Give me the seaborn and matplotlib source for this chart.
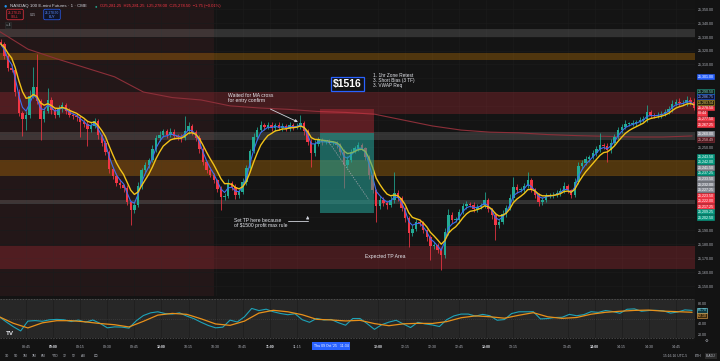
import numpy as np
import pandas as pd
import matplotlib
matplotlib.use("Agg")
import matplotlib.pyplot as plt
import matplotlib.transforms as mtransforms
import seaborn as sns

# ---- candles (2-minute bars) ----
BAR_START = "08:31"
BAR_STEP = 2
first_open = 25326.0
close = [
    25324.75, 25316.0, 25307.25, 25306.0, 25290.0, 25274.75, 25270.5, 25273.5, 25287.25, 25293.75,
    25283.5, 25270.5, 25276.25, 25284.25, 25277.0, 25273.5, 25277.75, 25280.75, 25276.25, 25273.5,
    25272.75, 25272.0, 25268.25, 25267.0, 25263.25, 25265.5, 25269.0, 25259.0, 25253.25, 25246.75,
    25234.5, 25229.25, 25224.25, 25222.75, 25220.75, 25210.5, 25204.75, 25208.5, 25222.0, 25233.75,
    25237.25, 25241.0, 25248.75, 25256.75, 25259.0, 25261.5, 25258.75, 25261.0, 25258.25, 25257.5,
    25256.75, 25262.0, 25265.5, 25261.25, 25256.75, 25248.75, 25239.5, 25233.75, 25230.0, 25226.5,
    25220.0, 25214.25, 25215.0, 25224.25, 25221.5, 25215.5, 25217.75, 25225.0, 25235.0, 25247.5,
    25257.5, 25262.5, 25266.25, 25264.75, 25266.5, 25264.0, 25266.25, 25263.75, 25265.5, 25263.5,
    25266.0, 25264.5, 25265.5, 25267.5, 25262.0, 25254.0, 25246.0, 25252.5, 25255.5, 25254.0,
    25254.0, 25253.25, 25253.25, 25251.75, 25246.75, 25237.25, 25241.0, 25246.75, 25249.5, 25251.75,
    25249.5, 25243.0, 25230.0, 25219.25, 25207.75, 25212.0, 25209.75, 25208.5, 25212.0, 25217.0,
    25213.5, 25206.25, 25199.0, 25188.25, 25191.0, 25196.0, 25195.5, 25190.25, 25185.25, 25178.75,
    25179.5, 25176.0, 25172.25, 25189.0, 25201.25, 25197.5, 25197.5, 25203.25, 25207.75, 25209.0,
    25208.5, 25205.5, 25207.0, 25208.5, 25212.0, 25205.5, 25201.25, 25194.0, 25196.0, 25202.0,
    25206.25, 25213.5, 25221.5, 25219.25, 25219.25, 25222.0, 25226.5, 25220.0, 25215.5, 25210.5,
    25212.0, 25215.0, 25215.5, 25215.5, 25217.0, 25218.5, 25222.0, 25219.25, 25215.5, 25225.0,
    25236.5, 25238.75, 25241.5, 25243.0, 25246.0, 25248.75, 25251.75, 25251.0, 25248.0, 25253.25,
    25257.5, 25262.5, 25264.75, 25267.0, 25267.0, 25267.5, 25268.25, 25269.75, 25270.5, 25275.5,
    25273.5, 25272.75, 25273.5, 25274.0, 25275.5, 25277.75, 25281.5, 25282.75, 25282.0, 25282.0,
    25284.25, 25282.75, 25278.5,
]
upper_wick = [
    2, 1.5, 2, 3, 1, 2, 1.5, 3, 4, 14, 24, 1.5, 3, 9, 2, 1.5, 3, 2, 1.5, 2,
    1.5, 2, 1, 2.5, 2, 3, 2, 1.5, 1, 2, 1, 1.5, 2, 3, 1, 2, 1, 2, 3, 1.5,
    2, 1.5, 3, 2, 2.5, 1.5, 2, 3, 2, 1.5, 2, 11, 2.5, 1.5, 1, 2, 1.5, 1, 2, 1.5,
    1, 2, 2, 3, 1.5, 2, 2, 3, 2, 1.5, 3, 2, 2.5, 1.5, 2, 2, 1.5, 2, 2, 1.5,
    2, 1.5, 2, 6, 1.5, 1, 2, 3, 2, 1.5, 1, 2, 1.5, 1, 1.5, 2, 3, 2, 1.5, 2,
    1.5, 1, 1.5, 2, 1, 3, 2, 1.5, 3, 15, 2, 1.5, 1, 1.5, 3, 2, 2.5, 1.5, 1, 1.5,
    2, 1.5, 2, 3, 4, 2, 2, 2.5, 2, 2, 1.5, 2, 2, 1.5, 6, 1.5, 1, 2, 2.5, 3,
    2, 3, 7, 2, 2, 2, 6, 1.5, 1, 1.5, 2, 2, 1.5, 2, 2, 2, 3, 1.5, 1, 3,
    3, 2, 2, 1.5, 2, 2.5, 9, 1.5, 2, 2.5, 2, 2, 2, 2.5, 1.5, 2, 1.5, 2, 2, 5,
    1.5, 1.5, 2, 2, 2, 2.5, 3, 2, 3, 2.5, 3, 2, 2.75,
]
lower_wick = [
    1.5, 2, 2, 1.5, 3, 2, 12, 8, 2, 1.5, 2, 15.5, 2, 1.5, 3, 2, 1.5, 2, 2, 1.5,
    2, 3, 11, 2, 12, 2, 1.5, 3, 2, 2, 3, 2, 2.5, 2, 3, 2, 11, 2, 1.5, 2,
    1.5, 2, 1.5, 2, 2, 1.5, 2, 1.5, 2, 2.5, 3, 1.5, 2, 2, 2.5, 3, 2, 2, 1.5, 2,
    2, 9.5, 2, 1.5, 2, 3, 2, 1.5, 2, 1.5, 1.5, 2, 1.5, 2, 1.5, 2, 2, 1.5, 2, 2,
    1.5, 2, 1.5, 2, 3, 2, 10, 2, 1.5, 2, 1.5, 1, 1.5, 2, 2, 16.5, 2, 1.5, 1, 2,
    1.5, 2, 3, 2, 12, 2, 2, 3, 1.5, 2, 2, 2, 3, 10, 2, 1.5, 2, 2, 3, 10,
    2, 2.5, 11, 2, 2, 2, 1.5, 2, 1.5, 2, 1.5, 2, 2, 1.5, 2, 2, 3, 11, 2, 1.5,
    2, 1.5, 2, 2, 1.5, 2, 1.5, 2, 2, 3, 2, 1.5, 1.5, 2, 1.5, 2, 1.5, 2, 2, 1.5,
    1.5, 2, 1.5, 2, 1.5, 2, 2, 2, 8.5, 2, 1.5, 1.5, 2, 1.5, 1.5, 1.5, 2, 1.5, 1.5, 2,
    2, 1.5, 1.5, 2, 1.5, 1.5, 2, 1.5, 2, 1.5, 2, 2, 1.5,
]

# ---- long average (maroon), one value every 16 minutes from 08:30 ----
vwap_step = 16
vwap = [25334.0, 25321.0, 25314.0, 25307.5, 25301.0, 25290.0, 25286.0, 25284.25, 25280.0,
        25278.5, 25277.5, 25276.0, 25275.25, 25274.0, 25269.75, 25265.5, 25262.5, 25261.0,
        25260.5, 25259.25, 25258.5, 25258.0, 25257.5, 25257.5, 25258.25]

# ---- RSI panel ----
rsi_step = 4
rsi = [
    53.6, 43.5, 34, 26, 45, 46, 44.7, 47.5, 48.3, 47.6,
    44.1, 47, 43, 47.1, 40.6, 32, 33.8, 33.4, 31.4, 45.5,
    55.8, 61, 63, 59.6, 58.6, 61, 54.8, 49.7, 42.7, 36.5,
    32, 33.3, 46.9, 43.3, 53.4, 69.5, 65.4, 68, 63.1, 59.7,
    57.4, 59.2, 47.7, 42.7, 50.2, 47.2, 48.2, 42, 37, 50,
    50, 40, 29, 38, 43, 46.6, 39.5, 32.5, 42.6, 39.6,
    37.6, 34.5, 47.7, 55, 58.6, 58.6, 54.6, 58, 55.3, 46.7,
    48, 59.6, 63, 63, 63.2, 49.2, 50, 52, 52.4, 58,
    55.4, 57.5, 63.2, 61.8, 65.5, 63.5, 60.1, 67.9, 68.7, 64,
    65.5, 65.8, 65, 60.5, 62.6, 66.7, 65.7,
]
rsi_ma_step = 8
rsi_ma = [
    53.6, 40.7, 31.8, 41.6, 45.8, 45.8, 43.5, 40.3, 38, 33.7,
    44.6, 56.6, 59.9, 58.1, 49.4, 39.5, 36.8, 45, 60.5, 65.9,
    63, 57.3, 48.4, 47.3, 45.3, 46.5, 40.2, 36.1, 39.7, 40.7,
    40.4, 44, 51.5, 55.1, 53.4, 50.6, 56.3, 61.3, 53.3, 50.3,
    52, 58.3, 62, 64, 65.7, 66.3, 64.3, 63.2, 62.1,
]

# ---- zones ----
zone_lo = [25329.75, 25313.25, 25274.0, 25255.5, 25229.25, 25209.25, 25162.0]
zone_hi = [25335.5, 25318.25, 25290.0, 25261.0, 25241.0, 25212.0, 25178.75]
zone_kind = ["grey", "orange", "red", "grey", "orange", "grey", "red"]
session_tint_end = "10:29"

# ---- short position drawing ----
trade_start, trade_end = "11:28", "11:58"
entry_price, stop_price, target_price = 25260.5, 25277.75, 25202.5
trade_path_t = ["11:32", "11:55"]
trade_path_p = [25255.25, 25212.0]

tick_times = ["08:45", "09:00", "09:15", "09:30", "09:45", "10:00", "10:15", "10:30", "10:45",
              "11:00", "11:15", "12:00", "12:15", "12:30", "12:45", "13:00", "13:15", "13:45",
              "14:00", "14:15", "14:30", "14:45"]

tag_text = ["25,301.00", "25,290.50", "25,286.75", "25,283.54", "25,278.50", "00:44", "25,277.50",
            "25,267.25", "25,260.00", "25,258.49", "25,243.50", "25,242.00", "25,241.50",
            "25,237.25", "25,233.50", "25,232.00", "25,227.25", "25,223.50", "25,222.00",
            "25,217.25", "25,209.25", "25,202.50"]
tag_value = [25301.0, 25290.5, 25286.75, 25283.54, 25278.5, 25278.5, 25277.5, 25267.25, 25260.0,
             25258.49, 25243.5, 25242.0, 25241.5, 25237.25, 25233.5, 25232.0, 25227.25, 25223.5,
             25222.0, 25217.25, 25209.25, 25202.5]
tag_kind = ["blue", "teal_o", "blue_o", "yellow_o", "red", "red", "red", "red", "grey", "darkred",
            "teal", "teal", "grey", "teal", "grey", "grey", "grey", "red", "red", "red", "teal", "teal"]

BG = "#131313"
UP = "#22ab94"
DOWN = "#f23645"
TXT = "#b2b5be"
W, H = 720, 361

TAG_STYLE = {
    "blue": ("#2962ff", "#2962ff", "white"),
    "teal_o": ("#0f1f1c", "#22ab94", "#7fd8c8"),
    "blue_o": ("#0e1430", "#2962ff", "#9bb0ff"),
    "yellow_o": ("#2a2410", "#c9a72a", "#f0d060"),
    "red": ("#f23645", "#f23645", "white"),
    "grey": ("#8d9099", "#8d9099", "white"),
    "darkred": ("#4a1a1f", "#8c2f39", "#f0b0b6"),
    "teal": ("#089981", "#089981", "white"),
}
ZONE_STYLE = {"grey": ("#ffffff", 0.13), "orange": ("#ff9800", 0.26), "red": ("#f23645", 0.22)}


def to_min(t):
    h, m = t.split(":")
    return int(h) * 60 + int(m) - (8 * 60 + 30)


def px_axes(fig, x0, y0, x1, y1):
    return fig.add_axes([x0 / W, 1 - y1 / H, (x1 - x0) / W, (y1 - y0) / H])


def fig_text(fig, x, y, s, **kw):
    return fig.text(x / W, 1 - y / H, s, **kw)


def stack(values, gap):
    out = []
    for v in values:
        out.append(v if not out else min(v, out[-1] - gap))
    return out


def free_labels(ticks, fmt, taken, room):
    # a scale label is hidden when a price tag sits on top of it
    return [fmt(v) if min(abs(v - p) for p in taken) > room else "" for v in ticks]


sns.set_theme(style="dark", rc={"axes.facecolor": BG, "figure.facecolor": BG})
plt.rcParams['font.family'] = ['Liberation Sans', 'DejaVu Sans']

fig = plt.figure(figsize=(7.2, 3.61), dpi=100)
ax = px_axes(fig, 0, 0, 695, 296)
rax = px_axes(fig, 0, 298, 695, 341)
for a in (ax, rax):
    a.set_facecolor("#141414")
    for s in a.spines.values():
        s.set_visible(False)

# ---- price panel ----
c = np.array(close)
o = np.r_[first_open, c[:-1]]
hi = np.maximum(o, c) + np.array(upper_wick)
lo = np.minimum(o, c) - np.array(lower_wick)
bar_min = to_min(BAR_START) + BAR_STEP * np.arange(len(c))
col = np.where(c >= o, UP, DOWN)

ax.axvspan(0, to_min(session_tint_end), color="#231718", zorder=0.5, lw=0)
for zl, zh, zk in zip(zone_lo, zone_hi, zone_kind):
    zc, za = ZONE_STYLE[zk]
    ax.axhspan(zl, zh, color=zc, alpha=za, lw=0, zorder=1)

vwap_t = to_min("08:30") + vwap_step * np.arange(len(vwap))
sns.lineplot(x=vwap_t, y=vwap, ax=ax, color="#8c2f39", lw=0.8, zorder=2)

ax.vlines(bar_min, lo, hi, colors=col, lw=0.55, zorder=3)
ax.bar(bar_min, np.maximum(np.abs(c - o), 0.4), bottom=np.minimum(o, c), width=1.35,
       color=col, lw=0, zorder=3)

s = pd.Series(c)
sns.lineplot(x=bar_min, y=s.ewm(span=3, adjust=False).mean(), ax=ax, color="#3d6ef0", lw=0.8, zorder=4)
sns.lineplot(x=bar_min, y=s.ewm(span=6, adjust=False).mean(), ax=ax, color="#f2c318", lw=1.0, zorder=5)

# position box
t0, t1 = to_min(trade_start), to_min(trade_end)
ax.add_patch(plt.Rectangle((t0, entry_price), t1 - t0, stop_price - entry_price,
                           color="#f23645", alpha=0.32, lw=0, zorder=6))
ax.add_patch(plt.Rectangle((t0, target_price), t1 - t0, entry_price - target_price,
                           color="#26a69a", alpha=0.55, lw=0, zorder=6))
ax.plot([to_min(t) for t in trade_path_t], trade_path_p, color="#9aa0a6", lw=0.6,
        ls=(0, (1.5, 1.5)), zorder=7)

# annotations
ann = dict(color="#e6e8ee", fontsize=3.6, zorder=8)
ax.text(to_min("10:37"), 25289.5, "Waited for MA cross\nfor entry confirm", va="top",
        linespacing=1.1, **ann)
ax.annotate("", xy=(to_min("11:17"), 25267.5), xytext=(to_min("10:59"), 25278.5),
            arrowprops=dict(arrowstyle="-|>", color="#d1d4dc", lw=0.6, mutation_scale=4), zorder=8)
ax.text(to_min("10:40"), 25199.0, "Set TP here because\nof $1500 profit max rule", va="top",
        linespacing=1.1, **ann)
ax.plot([to_min("11:10"), to_min("11:21")], [25196.8, 25196.8], color="#d1d4dc", lw=0.6, zorder=8)
ax.annotate("", xy=(to_min("11:21"), 25202.5), xytext=(to_min("11:21"), 25196.6),
            arrowprops=dict(arrowstyle="-|>", color="#d1d4dc", lw=0.6, mutation_scale=4), zorder=8)
ax.text(to_min("12:04"), 25170.8, "Expected TP Area", ha="center", va="center", **ann)
ax.text(to_min("11:43"), 25296.0, "$1516", ha="center", va="center", fontsize=7.5,
        fontweight="bold", color="white", zorder=8,
        bbox=dict(boxstyle="square,pad=0.2", fc=BG, ec="#2962ff", lw=0.9))
ax.text(to_min("11:57"), 25303.5, "1. 1hr Zone Retest\n3. Short Bias (3 TF)\n3. VWAP Req",
        va="top", linespacing=1.0, color="#e6e8ee", fontsize=3.4, zorder=8)

# price tags on the right scale, stacked so they do not cover one another
tag_pos = stack(tag_value, 4.0)
price_ticks = np.arange(25150, 25351, 10)

ax.set_xlim(0.55, 385.6)
ax.set_ylim(25142.6, 25356.5)
ax.set_xticks([to_min(t) for t in tick_times])
ax.set_yticks(price_ticks)
ax.set_yticklabels(free_labels(price_ticks, lambda v: f"{v:,.2f}", tag_pos, 4.6))
ax.yaxis.tick_right()
ax.tick_params(axis="x", length=0, labelbottom=False)
ax.tick_params(axis="y", length=0, pad=2.2, labelsize=2.6, labelcolor=TXT)
ax.grid(True, color="#1b1b1b", lw=0.5)
ax.set_axisbelow(True)
ax.set_xlabel("")
ax.set_ylabel("")

trans = mtransforms.blended_transform_factory(ax.transAxes, ax.transData)
for txt, p, k in zip(tag_text, tag_pos, tag_kind):
    fc, ec, tc = TAG_STYLE[k]
    ax.text(1.004, p, txt, transform=trans, ha="left", va="center", fontsize=2.6, color=tc,
            clip_on=False, zorder=10,
            bbox=dict(boxstyle="square,pad=0.12", fc=fc, ec=ec, lw=0.4))

# ---- RSI panel ----
rax.axhspan(12.5, 87.5, color="#272727", lw=0, zorder=0.5)
for lvl in (12.5, 87.5):
    rax.axhline(lvl, color="#5a5a5a", lw=0.5, ls=(0, (2, 2)), zorder=1)
rax.axhline(50, color="#4a4a4a", lw=0.5, ls=(0, (1, 2)), zorder=1)
rsi_t = rsi_step * np.arange(len(rsi))
rsi_ma_t = rsi_ma_step * np.arange(len(rsi_ma))
sns.lineplot(x=rsi_t, y=rsi, ax=rax, color="#1ea3b8", lw=0.8, zorder=3)
sns.lineplot(x=rsi_ma_t, y=rsi_ma, ax=rax, color="#e8901a", lw=0.9, zorder=4)

rsi_tags = [rsi[-1], rsi_ma[-1]]
rsi_tag_pos = stack(rsi_tags, 10.5)
rsi_ticks = [20, 40, 60, 80]

rax.set_xlim(0.55, 385.6)
rax.set_ylim(6.5, 89.7)
rax.yaxis.tick_right()
rax.set_yticks(rsi_ticks)
rax.set_yticklabels(free_labels(rsi_ticks, lambda v: f"{v:.2f}", rsi_tag_pos, 9.5))
rax.set_xticks([to_min(t) for t in tick_times])
rax.set_xticklabels(tick_times)
rax.tick_params(axis="y", length=0, pad=2.2, labelsize=2.6, labelcolor=TXT)
rax.tick_params(axis="x", length=0, pad=3.2, labelsize=2.5, labelcolor=TXT)
for lbl in rax.get_xticklabels():
    if lbl.get_text().endswith(":00"):
        lbl.set_fontweight("bold")
        lbl.set_color("#e6e8ee")
rax.grid(True, axis="x", color="#1d1d1d", lw=0.5)
rax.set_xlabel("")
rax.set_ylabel("")

rtrans = mtransforms.blended_transform_factory(rax.transAxes, rax.transData)
for v, p, (fc, tc) in zip(rsi_tags, rsi_tag_pos,
                          [("#0f3a42", "#7fe0f0"), ("#3a2a10", "#f5b050")]):
    rax.text(1.004, p, f"{v:.2f}", transform=rtrans, ha="left", va="center", fontsize=2.6,
             color=tc, clip_on=False, zorder=10,
             bbox=dict(boxstyle="square,pad=0.12", fc=fc, ec=tc, lw=0.4))

xtrans = mtransforms.blended_transform_factory(rax.transData, rax.transAxes)
rax.text(to_min("11:34"), -0.116, "Thu 09 Oct '25   11:34", transform=xtrans, ha="center",
         va="center", fontsize=2.5, color="white", clip_on=False, zorder=10,
         bbox=dict(boxstyle="square,pad=0.45", fc="#2962ff", ec="#2962ff", lw=0))
rax.text(0.008, 0.12, "TV", transform=rax.transAxes, fontsize=4.5, fontweight="bold",
         color="#e6e8ee", va="bottom", zorder=10)

# ---- header ----
fig_text(fig, 5, 6, "\u25cf", color="#2196f3", fontsize=4, ha="center", va="center")
fig_text(fig, 9.5, 6, "NASDAQ 100 E-mini Futures \u00b7 1 \u00b7 CME", color="#d1d4dc",
         fontsize=3.2, va="center")
fig_text(fig, 95.5, 6, "\u25cf", color="#22ab94", fontsize=3, ha="center", va="center")
fig_text(fig, 100, 6, "O25,281.25  H25,281.25  L25,278.00  C25,278.50  \u22121.75 (\u22120.01%)",
         color="#f23645", fontsize=3.0, va="center")
fig_text(fig, 15, 14.5, "25,278.25\nSELL", color="#f23645", fontsize=2.3, ha="center",
         va="center", linespacing=1.1,
         bbox=dict(boxstyle="round,pad=0.35,rounding_size=0.4", fc="#1a1012", ec="#f23645", lw=0.5))
fig_text(fig, 33.5, 14.5, "0.25", color=TXT, fontsize=2.3, ha="center", va="center")
fig_text(fig, 52, 14.5, "25,278.50\nBUY", color="#5b8cff", fontsize=2.3, ha="center",
         va="center", linespacing=1.1,
         bbox=dict(boxstyle="round,pad=0.35,rounding_size=0.4", fc="#0f1428", ec="#2962ff", lw=0.5))
fig_text(fig, 8, 25, "\u2248 4", color=TXT, fontsize=2.3, ha="center", va="center",
         bbox=dict(boxstyle="square,pad=0.3", fc="#1e1e1e", ec="#333333", lw=0.4))

# ---- bottom toolbar ----
for x, lab in zip([5, 14, 23, 32, 41, 52, 63, 72, 81],
                  ["1D", "5D", "1M", "3M", "6M", "YTD", "1Y", "5Y", "All"]):
    fig_text(fig, x, 356, lab, color=TXT, fontsize=2.4, va="center")
fig_text(fig, 95, 356, "\u22a1", color=TXT, fontsize=3.2, va="center", ha="center",
         family=["DejaVu Sans"])
fig_text(fig, 687, 356, "15:16:16 UTC-5", color=TXT, fontsize=2.4, va="center", ha="right")
fig_text(fig, 698, 356, "ETH", color=TXT, fontsize=2.4, va="center", ha="center")
fig_text(fig, 711, 356, "B-ADJ", color=TXT, fontsize=2.4, va="center", ha="center",
         bbox=dict(boxstyle="square,pad=0.4", fc="#2a2a2a", ec="#2a2a2a", lw=0))
fig_text(fig, 706, 341, "\u2699", color=TXT, fontsize=3, va="center", ha="center")

fig.savefig("out.png", dpi=100, facecolor=BG)
